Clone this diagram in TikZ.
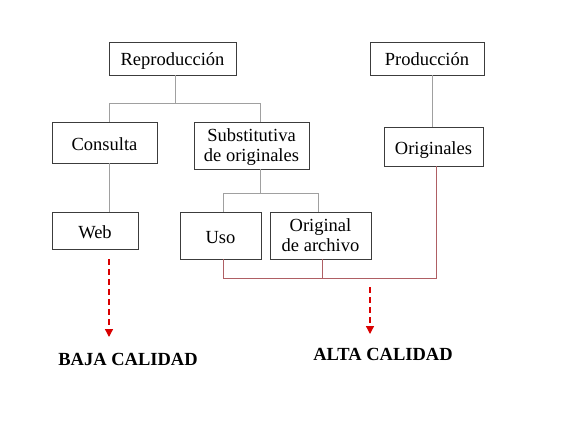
\documentclass[tikz,border=0pt]{standalone}
\usepackage{fontspec}
\setmainfont{Liberation Serif}
\usetikzlibrary{arrows.meta}
\definecolor{boxline}{RGB}{60,60,60}
\definecolor{treeline}{RGB}{160,160,160}
\definecolor{linkline}{RGB}{175,95,100}
\begin{document}
\begin{tikzpicture}[
    x=1pt, y=-1pt,
    box/.style={draw=boxline, line width=0.9pt, fill=white, inner sep=0pt, align=center,
        text depth=0pt, font=\fontsize{18.5}{20}\selectfont},
    single/.style={text height=15pt},
    tree/.style={draw=treeline, line width=1pt},
    link/.style={draw=linkline, line width=0.9pt},
    result/.style={-{Triangle[length=8pt,width=8pt]}, red!85!black, line width=1.3pt,
        dash pattern=on 6pt off 4pt},
    label/.style={font=\fontsize{18.5}{20}\selectfont\bfseries}
]
\useasboundingbox (0,0) rectangle (567,425);

% Boxes
\node[box, single, minimum width=127, minimum height=33] (repro) at (172.5,58.5) {Reproducción};
\node[box, single, minimum width=114, minimum height=33] (prod) at (427,58.5) {Producción};
\node[box, single, minimum width=105, minimum height=41] (consulta) at (104.5,142.5) {Consulta};
\node[box, minimum width=115, minimum height=47] (subst) at (251.5,145.5) {Substitutiva\\de originales};
\node[box, single, minimum width=99, minimum height=39] (orig) at (433.5,146.5) {Originales};
\node[box, single, minimum width=86, minimum height=37] (web) at (95,230.5) {Web};
\node[box, single, minimum width=81, minimum height=47] (uso) at (220.5,235.5) {Uso};
\node[box, minimum width=101, minimum height=47] (archivo) at (320.5,235.5) {Original\\de archivo};

% Tree lines
\draw[tree] ([xshift=2.5]repro.south) -- ++(0,28) -| ([xshift=4.5]consulta.north);
\draw[tree] ([xshift=2.5]repro.south) -- ++(0,28) -| ([xshift=8.5]subst.north);
\draw[tree] ([xshift=4.5]consulta.south) -- ([xshift=14]web.north);
\draw[tree] ([xshift=8.5]subst.south) -- ++(0,24) -| ([xshift=2.5]uso.north);
\draw[tree] ([xshift=8.5]subst.south) -- ++(0,24) -| ([xshift=-2.5]archivo.north);
\draw[tree] ([xshift=5]prod.south) -- ([xshift=-1.5]orig.north);

% Originals link
\draw[link] ([xshift=2.5]uso.south) -- ++(0,19) -| ([xshift=2.5]orig.south);
\draw[link] ([xshift=1.5]archivo.south) -- ++(0,19);

% Quality
\node[label] (baja) at (128,359) {BAJA CALIDAD};
\node[label] (alta) at (383,354) {ALTA CALIDAD};
\coordinate (bajatop) at (109,259);
\coordinate (bajaend) at (109,337);
\coordinate (altatop) at (370,287);
\coordinate (altaend) at (370,334);
\draw[result] (bajatop) -- (bajaend);
\draw[result] (altatop) -- (altaend);

\end{tikzpicture}
\end{document}
